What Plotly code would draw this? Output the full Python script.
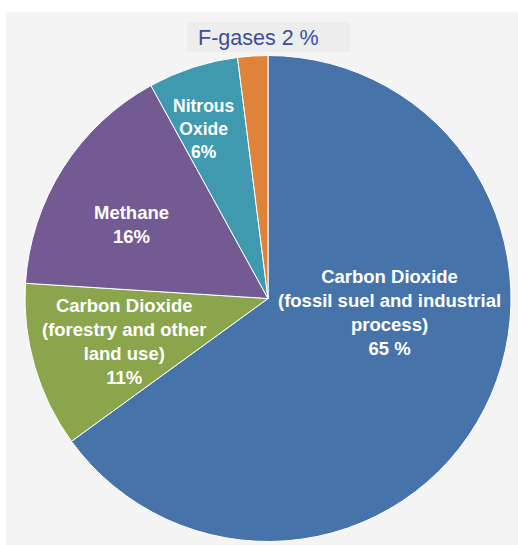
import plotly.graph_objects as go

W, H = 518, 545

categories = [
    "Carbon Dioxide (fossil suel and industrial process)",
    "Carbon Dioxide (forestry and other land use)",
    "Methane",
    "Nitrous Oxide",
    "F-gases",
]
values = [65, 11, 16, 6, 2]
colors = ["#4674aa", "#8aa54c", "#735a93", "#3f9aaf", "#e0833a"]
label_texts = [
    "Carbon Dioxide<br>(fossil suel and industrial<br>process)<br>65 %",
    "Carbon Dioxide<br>(forestry and other<br>land use)<br>11%",
    "Methane<br>16%",
    "Nitrous<br>Oxide<br>6%",
    "F-gases 2 %",
]

def px(x):
    return x / W

def py(y):
    return 1 - y / H

fig = go.Figure(go.Pie(
    labels=categories,
    values=values,
    sort=False,
    direction="clockwise",
    rotation=0,
    marker=dict(colors=colors, line=dict(color="white", width=1)),
    textinfo="none",
    hoverinfo="label+percent",
    showlegend=False,
    domain=dict(x=[px(25), px(511)], y=[py(541.5), py(55.5)]),
))

# label positions (pixel coords)
pos = [(389, 312), (124, 341), (131, 224), (204, 129)]
sizes = [18.5, 18.5, 18.5, 17.5]
for (x, y), t, s in zip(pos, label_texts[:4], sizes):
    fig.add_annotation(x=px(x), y=py(y), xref="paper", yref="paper",
                       text="<b>" + t + "</b>", showarrow=False,
                       font=dict(family="Liberation Sans, Arial", size=s, color="white"),
                       align="center", xanchor="center", yanchor="middle")

fig.add_annotation(x=px(258), y=py(38), xref="paper", yref="paper",
                   text=label_texts[4], showarrow=False,
                   font=dict(family="Liberation Sans, Arial", size=21.5, color="#3c4f96"),
                   xanchor="center", yanchor="middle")

fig.update_layout(
    width=W, height=H,
    margin=dict(l=0, r=0, t=0, b=0),
    paper_bgcolor="white",
    plot_bgcolor="white",
    shapes=[
        dict(type="rect", xref="paper", yref="paper", layer="below",
             x0=px(6), x1=1, y0=0, y1=py(12),
             fillcolor="#f4f4f4", line=dict(width=0)),
        dict(type="rect", xref="paper", yref="paper", layer="below",
             x0=px(187), x1=px(350), y0=py(52), y1=py(22),
             fillcolor="#ededed", line=dict(width=0)),
    ],
)

fig.write_html(
    "out.html",
    config={"displayModeBar": False},
    post_script="document.body.style.margin='0px';document.body.style.overflow='hidden';",
)
